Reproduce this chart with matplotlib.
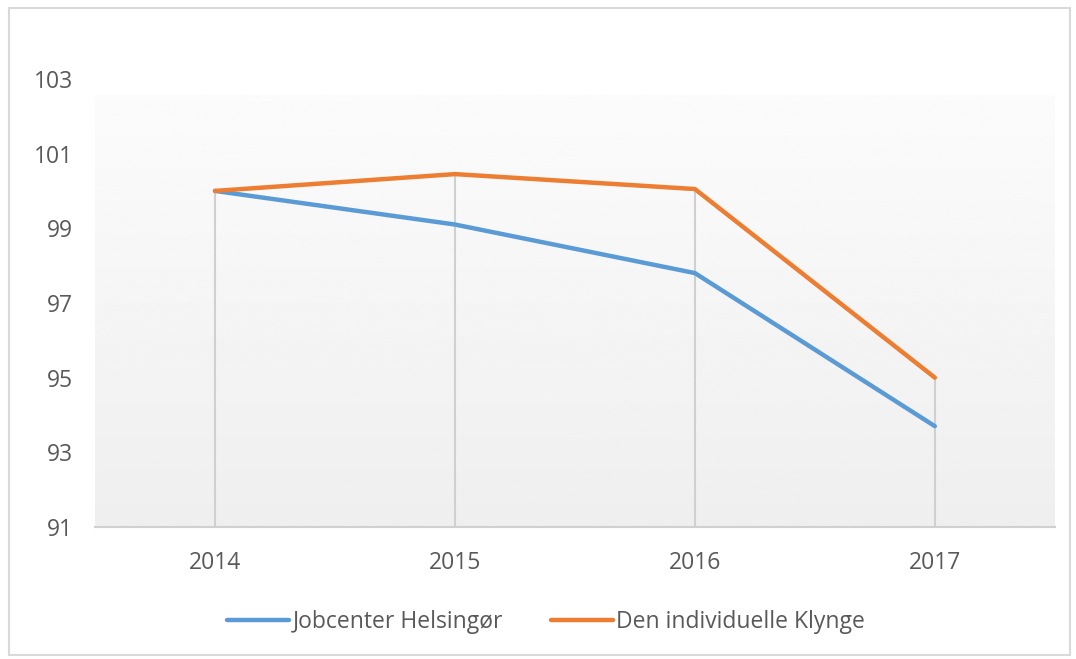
import numpy as np
import matplotlib.pyplot as plt
from matplotlib.patches import Rectangle

# data
years = ["2014", "2015", "2016", "2017"]
helsingor = [100.0, 99.1, 97.8, 93.7]
klynge = [100.0, 100.45, 100.05, 95.0]

blue = "#5b9bd5"
orange = "#ed7d31"
txt = "#595959"

plt.rcParams['font.family'] = ['Open Sans', 'DejaVu Sans']

fig = plt.figure(figsize=(10.76, 6.59), dpi=100)
ax = fig.add_axes([0.0883, 0.2003, 0.892, 0.68])

x = np.arange(len(years))
ax.set_xlim(-0.5, 3.5)
ax.set_ylim(91, 103)

# gradient background of the plot area (starts a bit under the top)
grad = np.linspace(0.935, 0.985, 256).reshape(-1, 1)
ax.imshow(grad, cmap="gray", vmin=0, vmax=1, aspect="auto",
          extent=(-0.5, 3.5, 91, 102.55), origin="lower", zorder=0)

# drop lines from each point down to the axis
top = np.maximum(helsingor, klynge)
ax.vlines(x, 91, top, color="#d0d0d0", lw=1.5, zorder=1)

ax.plot(x, helsingor, color=blue, lw=3.2, label="Jobcenter Helsingør", zorder=3,
        solid_capstyle="round")
ax.plot(x, klynge, color=orange, lw=3.2, label="Den individuelle Klynge", zorder=3,
        solid_capstyle="round")

ax.set_xticks(x)
ax.set_xticklabels(years)
ax.set_yticks(range(91, 104, 2))
ax.tick_params(length=0, labelsize=16.5, colors=txt)
ax.tick_params(axis="x", pad=17)
ax.tick_params(axis="y", pad=16)

for s in ["top", "right", "left"]:
    ax.spines[s].set_visible(False)
ax.spines["bottom"].set_color("#d0d0d0")
ax.spines["bottom"].set_linewidth(1.5)

leg = ax.legend(loc="center", bbox_to_anchor=(0.470, -0.213), ncol=2, frameon=False,
                fontsize=16.5, handlelength=2.7, handletextpad=0.15, columnspacing=2.1)
for t in leg.get_texts():
    t.set_color(txt)

# outer chart frame
fig.patches.append(Rectangle((0.008, 0.006), 0.986, 0.982, transform=fig.transFigure,
                             fill=False, edgecolor="#d9d9d9", lw=1.5))

fig.savefig("out.png", dpi=100)
